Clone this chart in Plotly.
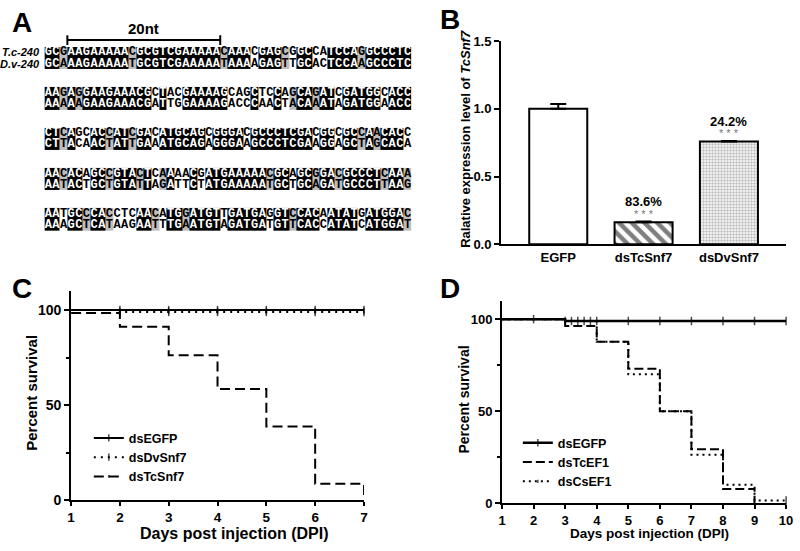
import plotly.graph_objects as go

# ---------------- Panel A data: 240-nt alignment, 5 blocks of 48 nt ----------------
seq_tc = [
    "GCGAAGAAAAACGCGTCGAAAAACAAACGAGCGGCCATCCAGGCCCTC",
    "AAGAGGAAGAAACGCTACGAAAAGCAGCTCCAGCAGATCGATGGCACC",
    "CTCAGCACCATCGACATGCAGCGGGACGCCCTCGACGGCGCCAACACC",
    "AACACAGCCGTACTCAAAACGATGAAAAACGCAGCGGACGCCCTCAAA",
    "AATGCCCACCTCAACATGGATGTTGATGAGGTCCACAATATGATGGAC",
]
seq_dv = [
    "GCAAAGAAAAATGCGTCGAAAAATAAAAGAGTTGCACTCCAAGCCCTC",
    "AAAAAGAAGAAACGATTGGAAAAGACCCAACTACAAATAGATGGAACC",
    "CTTACAACTATTGAAATGCAGAGGGAAGCCCTCGAAGGAGCTAGCACA",
    "AATACTGCTGTATTAGATTCTATGAAAAATGCTGCAGATGCCCTTAAG",
    "AAAGCTCATAAGAATTTGAATGTAGATGATGTTCACCATATCATGGAT",
]
seq_names = ["T.c-240", "D.v-240"]

# ---------------- Panel B data ----------------
b_cats = ["EGFP", "dsTcSnf7", "dsDvSnf7"]
b_vals = [1.0, 0.164, 0.758]
b_err = [0.035, 0.004, 0.004]
b_pct = ["", "83.6%", "24.2%"]
b_sig = ["", "* * *", "* * *"]

# ---------------- Panel C data ----------------
c_days = [1, 2, 3, 4, 5, 6, 7]
c_egfp = [100, 100, 100, 100, 100, 100, 100]
c_dvsnf7 = [100, 99, 99, 99, 99, 99, 99]
c_tcsnf7 = [98.5, 91.2, 76.2, 58.5, 38.8, 8.7, 0]

# ---------------- Panel D data ----------------
d_days = [1, 2, 3, 4, 5, 6, 7, 8, 9, 10]
d_egfp = [100, 100, 99, 99, 99, 99, 99, 99, 99, 99]
d_tc_days = [1, 2, 3, 4, 5, 6, 7, 8, 9]
d_tcef1 = [100, 100, 96.3, 87.7, 73, 50, 29.3, 7.7, 0]
d_cs_days = [1, 3, 3.2, 3.4, 3.6, 3.8, 4, 5, 6, 7, 8, 9, 10]
d_csef1 = [100, 99, 99, 99, 99, 99, 87.7, 70, 50, 26.3, 10, 1.4, 1.4]
d_cs_censor = [0, 0, 1, 1, 1, 1, 0, 0, 0, 0, 0, 0, 1]

FONT = "Liberation Sans"
W, H = 800, 551


def px(x):
    return x / W


def py(y):
    return 1 - y / H


def ann(**kw):
    d = dict(showarrow=False, xanchor="center", yanchor="middle")
    d.update(kw)
    return d


fig = go.Figure()

# ---------------- Panel A: alignment as heatmap + letters ----------------
TOP = 41
ROW_H = 11.5
PITCH = 41.5
purines, pyrimidines = set("AG"), set("CT")


def shade(a, b):
    if a == b:
        return 2
    if (a in purines and b in purines) or (a in pyrimidines and b in pyrimidines):
        return 1
    return 0


z, edges = [], [0.0]
wx, wy, wt, kx, ky, kt = [], [], [], [], [], []
for bi, (s1, s2) in enumerate(zip(seq_tc, seq_dv)):
    top = bi * PITCH
    if bi > 0:
        z.append([None] * len(s1))
        edges.append(top)
    for ri, s in enumerate((s1, s2)):
        row = []
        for ci, ch in enumerate(s):
            v = shade(s1[ci], s2[ci])
            row.append(v)
            yc = top + ri * ROW_H + ROW_H / 2
            if v == 2:
                wx.append(ci + 0.5); wy.append(yc); wt.append(ch)
            else:
                kx.append(ci + 0.5); ky.append(yc); kt.append(ch)
        z.append(row)
        edges.append(top + (ri + 1) * ROW_H)

ncol = len(seq_tc[0])
fig.add_trace(go.Heatmap(
    z=z, x=list(range(ncol + 1)), y=edges, zmin=0, zmax=2,
    colorscale=[[0, "white"], [0.5, "#bdbdbd"], [1, "black"]],
    showscale=False, hoverinfo="skip", xaxis="x", yaxis="y"))
letter_font = dict(family="Liberation Mono", size=12, weight="bold")
fig.add_trace(go.Scatter(x=wx, y=wy, text=wt, mode="text", textposition="middle center",
                         textfont=dict(color="white", **letter_font), hoverinfo="skip",
                         showlegend=False, xaxis="x", yaxis="y", cliponaxis=False))
fig.add_trace(go.Scatter(x=kx, y=ky, text=kt, mode="text", textposition="middle center",
                         textfont=dict(color="black", **letter_font), hoverinfo="skip",
                         showlegend=False, xaxis="x", yaxis="y", cliponaxis=False))

total_h = (len(seq_tc) - 1) * PITCH + 2 * ROW_H
annotations = []
for ri, nm in enumerate(seq_names):
    annotations.append(ann(x=px(39), y=ri * ROW_H + ROW_H / 2, xref="paper", yref="y",
                           text="<b><i>%s</i></b>" % nm, xanchor="right",
                           font=dict(size=11, family=FONT)))

# 20nt scale bar
shapes = [
    dict(type="line", xref="x", yref="paper", x0=3, x1=23, y0=py(34), y1=py(34),
         line=dict(color="black", width=2)),
    dict(type="line", xref="x", yref="paper", x0=3, x1=3, y0=py(29), y1=py(39),
         line=dict(color="black", width=2)),
    dict(type="line", xref="x", yref="paper", x0=23, x1=23, y0=py(29), y1=py(39),
         line=dict(color="black", width=2)),
]
annotations.append(ann(x=13, y=py(22), xref="x", yref="paper", text="<b>20nt</b>",
                       font=dict(size=15, family=FONT)))

# ---------------- Panel B: bars ----------------
fig.add_trace(go.Bar(
    x=b_cats, y=b_vals, width=0.68, xaxis="x2", yaxis="y2", showlegend=False,
    marker=dict(color="white", line=dict(color="black", width=2),
                pattern=dict(shape=["", "\\", "."], fgcolor=["black", "black", "#7a7a7a"],
                             bgcolor="white", size=[8, 9, 3], solidity=[0.3, 0.5, 0.5],
                             fillmode="overlay")),
    error_y=dict(type="data", symmetric=False, array=b_err, arrayminus=[0, 0, 0],
                 thickness=2, width=8, color="black"),
    hoverinfo="skip"))
for cat, v, p, s in zip(b_cats, b_vals, b_pct, b_sig):
    if p:
        annotations.append(ann(x=cat, y=v + 0.15, xref="x2", yref="y2", text="<b>%s</b>" % p,
                               font=dict(size=13, family=FONT)))
        annotations.append(ann(x=cat, y=v + 0.062, xref="x2", yref="y2", text=s,
                               font=dict(size=11, family=FONT, color="#777777")))
annotations.append(ann(x=px(468), y=py(136), xref="paper", yref="paper", textangle=-90,
                       text="<b>Ralative expression level of <i>TcSnf7</i></b>",
                       font=dict(size=13, family=FONT)))

# ---------------- Panel C: survival ----------------
c_series = [("dsEGFP", c_egfp, "solid", [0, 1, 1, 1, 1, 1, 1]),
            ("dsDvSnf7", c_dvsnf7, "2px,5px", [0, 1, 1, 1, 1, 1, 1]),
            ("dsTcSnf7", c_tcsnf7, "10px,5px", [0, 0, 0, 0, 0, 0, 0])]
for nm, ys, dash, cens in c_series:
    fig.add_trace(go.Scatter(
        x=c_days, y=ys, name=nm, mode="lines+markers", line=dict(shape="hv", color="black",
                                                                   width=2, dash=dash),
        marker=dict(symbol="line-ns", size=[6 * c for c in cens],
                    line=dict(color="black", width=1.5)),
        xaxis="x3", yaxis="y3", legend="legend", cliponaxis=False, hoverinfo="skip"))

# ---------------- Panel D: survival ----------------
fig.add_trace(go.Scatter(
    x=d_days, y=d_egfp, name="dsEGFP", mode="lines+markers",
    line=dict(shape="hv", color="black", width=2.5),
    marker=dict(symbol="line-ns", size=[0, 6, 6, 6, 6, 6, 6, 6, 6, 6],
                line=dict(color="black", width=1.5)),
    xaxis="x4", yaxis="y4", legend="legend2", cliponaxis=False, hoverinfo="skip"))
fig.add_trace(go.Scatter(
    x=d_tc_days, y=d_tcef1, name="dsTcEF1", mode="lines",
    line=dict(shape="hv", color="black", width=2, dash="9px,4px"),
    xaxis="x4", yaxis="y4", legend="legend2", cliponaxis=False, hoverinfo="skip"))
fig.add_trace(go.Scatter(
    x=d_cs_days, y=d_csef1, name="dsCsEF1", mode="lines+markers",
    line=dict(shape="hv", color="black", width=2, dash="2px,4px"),
    marker=dict(symbol="line-ns", size=[6 * c for c in d_cs_censor],
                line=dict(color="black", width=1.5)),
    xaxis="x4", yaxis="y4", legend="legend2", cliponaxis=False, hoverinfo="skip"))

# axis titles C / D
annotations += [
    ann(x=px(28), y=py(397), xref="paper", yref="paper", textangle=-90,
        text="<b>Percent survival</b>", font=dict(size=15, family=FONT)),
    ann(x=px(233), y=py(541.5), xref="paper", yref="paper",
        text="<b>Days post injection (DPI)</b>", font=dict(size=16, family=FONT)),
    ann(x=px(466), y=py(404), xref="paper", yref="paper", textangle=-90,
        text="<b>Percent survival</b>", font=dict(size=14, family=FONT)),
    ann(x=px(654), y=py(541), xref="paper", yref="paper",
        text="<b>Days post injection (DPI)</b>", font=dict(size=13.5, family=FONT)),
]

# panel letters
for letter, lx, ly in [("A", 18, 16), ("B", 452, 13), ("C", 18, 289), ("D", 452, 289)]:
    annotations.append(ann(x=px(lx), y=py(ly), xref="paper", yref="paper",
                           text="<b>%s</b>" % letter, font=dict(size=28, family=FONT)))

axis_common = dict(showline=True, linewidth=2, linecolor="black", showgrid=False, zeroline=False,
                   ticks="outside", ticklen=5, tickwidth=2, tickcolor="black", fixedrange=True)
xc_common = dict(axis_common, ticklen=4)

fig.update_layout(
    width=W, height=H, margin=dict(l=0, r=0, t=0, b=0),
    paper_bgcolor="white", plot_bgcolor="white",
    font=dict(family=FONT, color="black"),
    xaxis=dict(domain=[px(41), px(413)], range=[0, ncol], visible=False, fixedrange=True),
    yaxis=dict(domain=[py(TOP + total_h), py(TOP)], range=[total_h, 0], visible=False,
               fixedrange=True),
    xaxis2=dict(domain=[px(504), px(793)], anchor="y2", range=[-0.67, 2.67], type="category",
                showline=True, linewidth=2, linecolor="black", showgrid=False, ticks="",
                tickfont=dict(size=13, weight="bold"), fixedrange=True),
    yaxis2=dict(domain=[py(244), py(35)], anchor="x2", range=[0, 1.5], tickvals=[0, 0.5, 1.0, 1.5],
                tickformat=".1f", tickfont=dict(size=13, weight="bold"), **axis_common),
    xaxis3=dict(domain=[px(68), px(365)], anchor="y3", range=[1, 7], tickvals=c_days,
                tickfont=dict(size=13.5, weight="bold"), **xc_common),
    yaxis3=dict(domain=[py(507), py(292)], anchor="x3", range=[0, 110], tickvals=[0, 50, 100],
                tickfont=dict(size=14, weight="bold"),
                minor=dict(tickvals=[25, 75], ticklen=3, tickwidth=2, ticks="outside",
                           tickcolor="black"), **axis_common),
    xaxis4=dict(domain=[px(505), px(793)], anchor="y4", range=[1, 10], tickvals=d_days,
                tickfont=dict(size=13, weight="bold"), **xc_common),
    yaxis4=dict(domain=[py(510), py(302)], anchor="x4", range=[0, 110], tickvals=[0, 50, 100],
                tickfont=dict(size=13, weight="bold"),
                minor=dict(tickvals=[25, 75], ticklen=3, tickwidth=2, ticks="outside",
                           tickcolor="black"), **axis_common),
    legend=dict(x=px(86), y=py(428), xanchor="left", yanchor="top", bgcolor="rgba(0,0,0,0)",
                font=dict(size=12.5, weight="bold"), itemwidth=30, tracegroupgap=0),
    legend2=dict(x=px(521), y=py(433), xanchor="left", yanchor="top", bgcolor="rgba(0,0,0,0)",
                 font=dict(size=12.5, weight="bold"), itemwidth=30, tracegroupgap=0),
    annotations=annotations, shapes=shapes, bargap=0.3,
)

fig.write_html("out.html", config={"displayModeBar": False},
               post_script="document.body.style.margin='0';")
